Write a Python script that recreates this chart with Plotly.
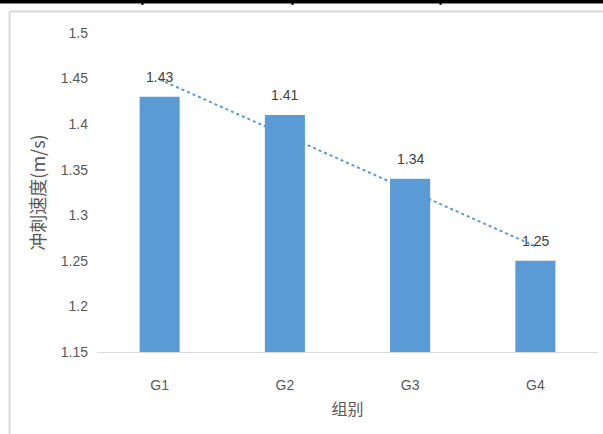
import numpy as np
import plotly.graph_objects as go

groups = ["G1", "G2", "G3", "G4"]
speeds = [1.43, 1.41, 1.34, 1.25]
y_tickvals = [1.15, 1.2, 1.25, 1.3, 1.35, 1.4, 1.45, 1.5]
y_ticktext = ["1.15", "1.2", "1.25", "1.3", "1.35", "1.4", "1.45", "1.5"]
x_title = "组别"
y_title = "冲刺速度(m/s)"

W, H = 603, 434
ML, MR, MT, MB = 97, 5, 33, 82
PW, PH = W - ML - MR, H - MT - MB

def px_x(px):
    return (px - ML) / PW

def px_y(py):
    return 1 - (py - MT) / PH

# Linear trendline fitted to the bar values
xi = np.arange(1, len(speeds) + 1)
slope, intercept = np.polyfit(xi, speeds, 1)
trend = list(slope * xi + intercept)

BLUE = "#5B9BD5"
TXT = "#595959"
FONT = "Liberation Sans, Arial, sans-serif"
CJK = "Noto Sans CJK SC"

fig = go.Figure()
fig.add_trace(go.Bar(x=groups, y=speeds, marker=dict(color=BLUE, line=dict(width=0)),
                     showlegend=False, hoverinfo="x+y"))
fig.add_trace(go.Scatter(x=groups, y=trend, mode="lines",
                         line=dict(color=BLUE, width=2, dash="dot"),
                         showlegend=False, hoverinfo="skip"))

for g, v in zip(groups, speeds):
    fig.add_annotation(x=g, y=v, text=f"{v:.2f}", showarrow=False, yshift=20,
                       font=dict(family=FONT, size=14, color="#404040"))

shapes = []
# chart frame (light gray)
shapes.append(dict(type="line", xref="paper", yref="paper",
                   x0=px_x(9.5), x1=px_x(W + 5), y0=px_y(11.5), y1=px_y(11.5),
                   line=dict(color="#d9d9d9", width=2)))
shapes.append(dict(type="line", xref="paper", yref="paper",
                   x0=px_x(9.5), x1=px_x(9.5), y0=px_y(11.5), y1=px_y(H + 5),
                   line=dict(color="#d9d9d9", width=2)))
# top black table border
shapes.append(dict(type="rect", xref="paper", yref="paper",
                   x0=px_x(-5), x1=px_x(W + 5), y0=px_y(3.5), y1=px_y(-5),
                   fillcolor="black", line=dict(width=0)))
for vx in [142.5, 292.5, 440.5]:
    shapes.append(dict(type="line", xref="paper", yref="paper",
                       x0=px_x(vx), x1=px_x(vx), y0=px_y(-2), y1=px_y(5),
                       line=dict(color="black", width=2)))

fig.update_layout(
    width=W, height=H,
    margin=dict(l=ML, r=MR, t=MT, b=MB, autoexpand=False),
    paper_bgcolor="white", plot_bgcolor="white",
    bargap=0.68,
    font=dict(family=FONT, color=TXT, size=14),
    shapes=shapes,
    xaxis=dict(
        showgrid=False, showline=True, linecolor="#d9d9d9", linewidth=1,
        ticks="", ticklabelstandoff=20,
        tickfont=dict(family=FONT, size=14, color=TXT),
        title=dict(text=x_title, standoff=12,
                   font=dict(family=CJK, size=16, color=TXT)),
    ),
    yaxis=dict(
        range=[1.15, 1.5], showgrid=False, zeroline=False, showline=False,
        tickvals=y_tickvals, ticktext=y_ticktext, ticks="",
        ticklabelstandoff=8,
        tickfont=dict(family=FONT, size=14, color=TXT),
        title=dict(text=y_title, standoff=10,
                   font=dict(family=CJK, size=18, color=TXT)),
    ),
)

fig.write_html("out.html", config={"displayModeBar": False},
               post_script="document.body.style.margin='0';document.body.style.padding='0';")
